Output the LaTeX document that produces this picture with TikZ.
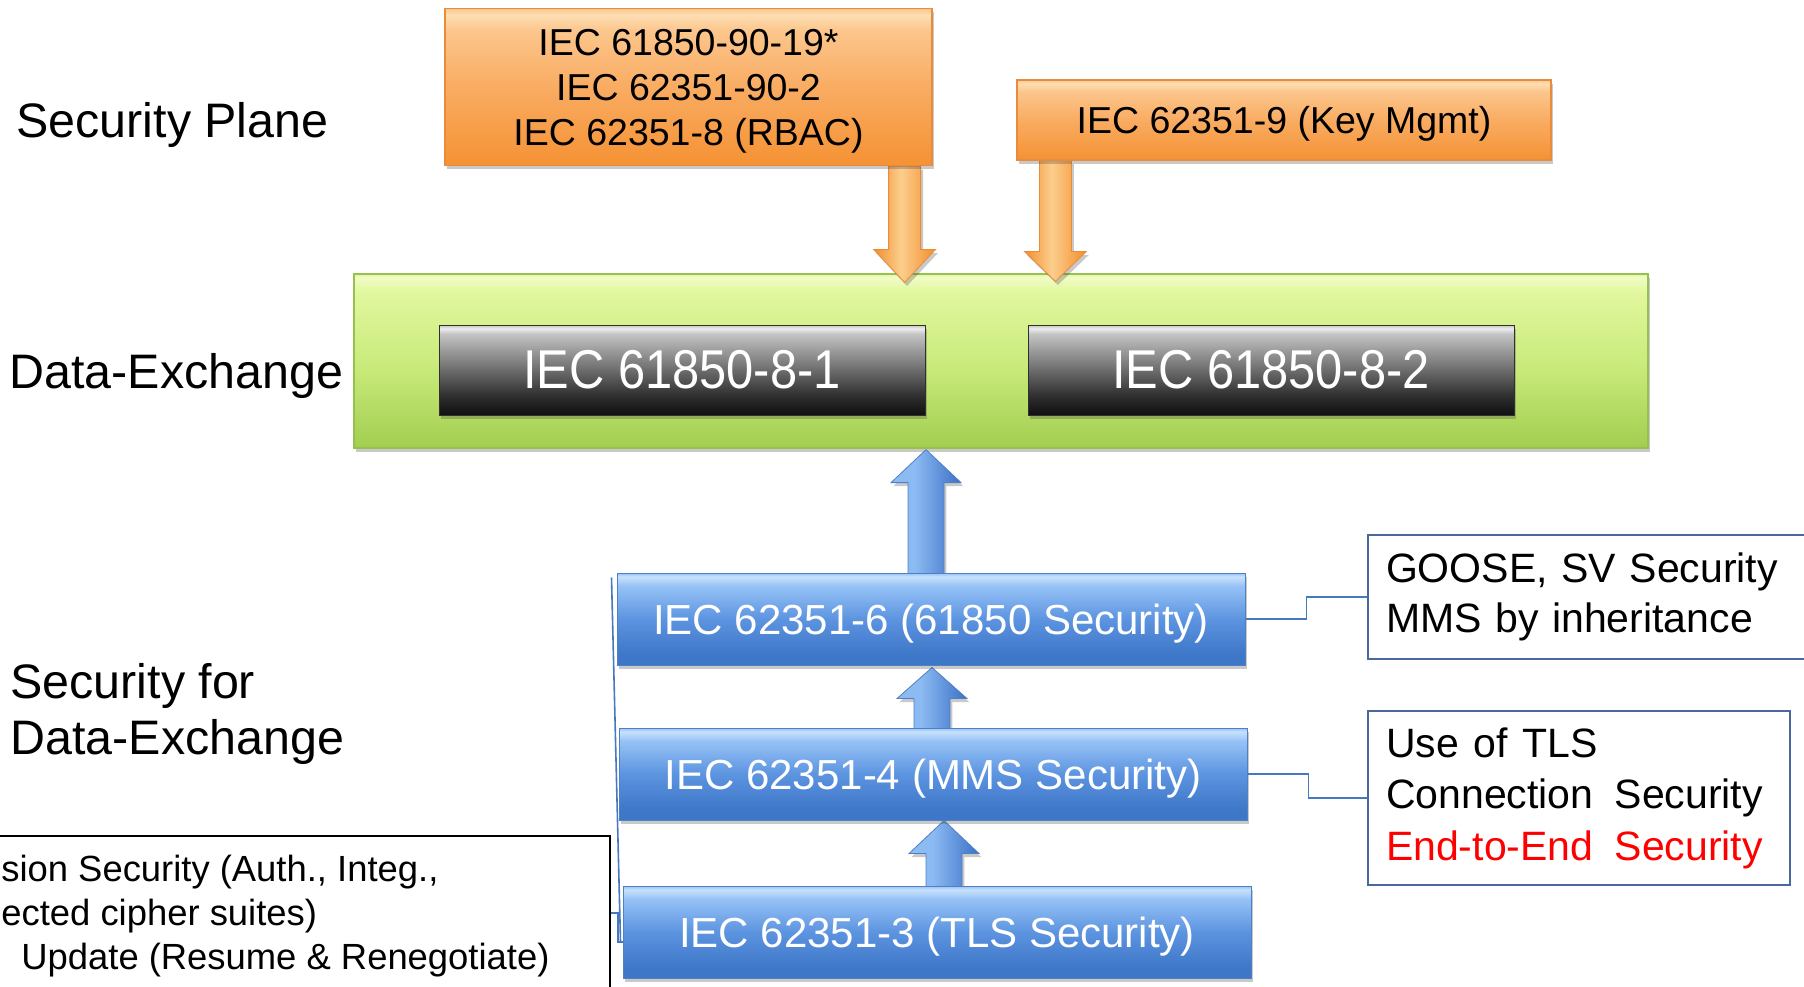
\documentclass[tikz,border=0pt]{standalone}
\usepackage{fontspec}
\setmainfont{Liberation Sans}
\usepackage{graphicx}
\usetikzlibrary{calc,shadows}

% colours
\definecolor{bluD}{RGB}{62,118,200}
\definecolor{bluM}{RGB}{92,148,224}
\definecolor{bluL}{RGB}{150,194,246}
\definecolor{bluH}{RGB}{200,226,253}
\definecolor{bluEdge}{RGB}{80,128,196}
\definecolor{orD}{RGB}{245,146,52}
\definecolor{orM}{RGB}{249,172,98}
\definecolor{orL}{RGB}{252,198,140}
\definecolor{orH}{RGB}{254,222,180}
\definecolor{orEdge}{RGB}{232,140,60}
\definecolor{grD}{RGB}{162,206,80}
\definecolor{grM}{RGB}{200,234,122}
\definecolor{grL}{RGB}{226,247,158}
\definecolor{grH}{RGB}{240,252,198}
\definecolor{grEdge}{RGB}{150,192,80}
\definecolor{dkD}{RGB}{16,16,16}
\definecolor{dkM}{RGB}{48,48,48}
\definecolor{dkL}{RGB}{160,160,160}
\definecolor{dkS}{RGB}{196,196,196}
\definecolor{dkH}{RGB}{236,236,236}
\definecolor{noteEdge}{RGB}{74,104,158}
\definecolor{connCol}{RGB}{70,120,190}
\definecolor{arOr}{RGB}{242,142,42}
\definecolor{arOrL}{RGB}{252,206,142}
\definecolor{arBlL}{RGB}{140,186,242}
\definecolor{arBlD}{RGB}{58,112,198}

% face shadings (the path box maps to 25bp..75bp)
\pgfdeclareverticalshading{blueface}{100bp}{color(0bp)=(bluD); color(25bp)=(bluD); color(30bp)=(bluD); color(50bp)=(bluM); color(68bp)=(bluL); color(73bp)=(bluH); color(75bp)=(bluL); color(100bp)=(bluL)}
\pgfdeclareverticalshading{orangeface}{100bp}{color(0bp)=(orD); color(25bp)=(orD); color(50bp)=(orM); color(68bp)=(orL); color(73bp)=(orH); color(75bp)=(orL); color(100bp)=(orL)}
\pgfdeclareverticalshading{greenface}{100bp}{color(0bp)=(grD); color(25bp)=(grD); color(48bp)=(grM); color(70bp)=(grL); color(74bp)=(grH); color(75bp)=(grL); color(100bp)=(grL)}
\pgfdeclareverticalshading{darkface}{100bp}{color(0bp)=(dkD); color(25bp)=(dkD); color(36bp)=(dkM); color(62bp)=(dkL); color(70bp)=(dkS); color(73bp)=(dkH); color(75bp)=(dkS); color(100bp)=(dkS)}
\pgfdeclarehorizontalshading{orangeshaft}{100bp}{color(0bp)=(arOr); color(25bp)=(arOr); color(47bp)=(arOrL); color(75bp)=(arOr); color(100bp)=(arOr)}
\pgfdeclarehorizontalshading{blueshaft}{100bp}{color(0bp)=(arBlL); color(25bp)=(arBlL); color(42bp)=(arBlL); color(75bp)=(arBlD); color(100bp)=(arBlD)}

\pgfdeclarelayer{bg}
\pgfdeclarelayer{arr}
\pgfsetlayers{bg,arr,main}

\tikzset{
  softshadow/.style={drop shadow={shadow xshift=1.2pt, shadow yshift=-1.8pt, opacity=0.3, fill=black!70}},
  orbox/.style={shade, shading=orangeface, draw=orEdge, line width=0.6pt, inner sep=0pt,
    align=center, softshadow, text depth=0pt, font=\fontsize{18.75pt}{22.5pt}\selectfont},
  greenbox/.style={shade, shading=greenface, draw=grEdge, line width=0.6pt, inner sep=0pt, softshadow},
  darkbox/.style={shade, shading=darkface, draw=dkM, line width=0.5pt, inner sep=0pt,
    minimum width=243pt, minimum height=45pt, text=white, softshadow, font=\fontsize{24.4pt}{28pt}\selectfont},
  bluebox/.style={shade, shading=blueface, draw=bluEdge, line width=0.5pt, inner sep=0pt, text depth=0pt,
    minimum width=314pt, minimum height=46pt, text=white, softshadow, font=\fontsize{21pt}{25pt}\selectfont},
  notebox/.style={draw=noteEdge, line width=1pt, fill=white, inner xsep=9pt, inner ysep=0pt, align=left},
  lab/.style={inner sep=0pt, font=\fontsize{24.2pt}{28.2pt}\selectfont},
  conn/.style={draw=connCol, line width=0.8pt},
  orarrow/.style={shade, shading=orangeshaft, draw=orEdge, line width=0.4pt, softshadow},
  blarrow/.style={shade, shading=blueshaft, draw=bluEdge, line width=0.4pt, softshadow}
}

% vertical block arrow: from, to (tip), shaft half width, head half width, head length, style
\newcommand\blockarrow[6]{%
  \path[#6] let \p1=(#1), \p2=(#2), \n2={\y2-sign(\y2-\y1)*#5} in
    (\x1-#3,\y1) -- (\x1-#3,\n2*1pt) -- (\x1-#4,\n2*1pt) -- (\x1,\y2)
    -- (\x1+#4,\n2*1pt) -- (\x1+#3,\n2*1pt) -- (\x1+#3,\y1) -- cycle;}

\begin{document}
\begin{tikzpicture}[x=0.5pt,y=-0.5pt]
\useasboundingbox (0,0) rectangle (1804,986);
\clip (0,0) rectangle (1804,986);

% data exchange plane
\begin{pgfonlayer}{bg}
  \node[greenbox, minimum width=647pt, minimum height=87pt] (g) at (1001,361) {};
  \node[darkbox] (d1) at (682,370) {\scalebox{1}[1.12]{IEC 61850-8-1}};
  \node[darkbox] (d2) at (1271,370) {\scalebox{1}[1.12]{IEC 61850-8-2}};
\end{pgfonlayer}

% security plane
\node[orbox, minimum width=243.5pt, minimum height=78.5pt] (o1) at (688.5,87)
  {IEC 61850-90-19*\\IEC 62351-90-2\\IEC 62351-8 (RBAC)};
\node[orbox, minimum width=267pt, minimum height=40pt] (o2) at (1284,120)
  {IEC 62351-9 (Key Mgmt)};

% security for data exchange
\node[bluebox] (b6) at (931,619) {IEC 62351-6 (61850 Security)};
\node[bluebox] (b4) at (933,774) {IEC 62351-4 (MMS Security)};
\node[bluebox] (b3) at (937,932) {IEC 62351-3 (TLS Security)};

% layer labels
\node[lab, anchor=base west] (sp) at (16,137) {Security Plane};
\node[lab, anchor=base west] (de) at (9,388) {Data-Exchange};
\node[lab, anchor=north west, align=left] (sfd) at (10,663) {Security for\\Data-Exchange};

% notes
\node[notebox, anchor=west, text width=212pt, minimum height=62pt,
      font=\fontsize{20.5pt}{25pt}\selectfont] (r1) at (1367,597)
  {GOOSE, SV Security\\MMS by inheritance};
\node[notebox, anchor=west, text width=193pt, minimum height=87pt,
      font=\fontsize{20.5pt}{25.75pt}\selectfont] (r2) at (1367,798)
  {Use\hspace{0.36em}of\hspace{0.36em}TLS\\Connection\hspace{0.52em}Security\\\textcolor{red}{End-to-End\hspace{0.52em}Security}};

\node[draw=black, line width=1.2pt, minimum width=315pt, minimum height=87pt, inner sep=0pt] (bl) at (295,923) {};
\node[anchor=west, align=left, inner sep=0pt, font=\fontsize{18.2pt}{22.2pt}\selectfont] (blt) at (1,916)
  {sion Security (Auth., Integ.,\\ected cipher suites)\\\hspace*{10pt}Update (Resume \& Renegotiate)};

% connectors
\draw[conn] (b6.east) -- ++(61,0) |- (r1.west);
\draw[conn] (b4.east) -- ++(61,0) |- (r2.west);
\draw[conn] ($(bl.east)+(0,-10)$) -- ++(7,0) |- ($(b3.west)+(0,10)$);
\draw[conn] ($(b6.north west)+(-5,5)$) -- ($(b3.west)+(-2,10)$);

% block arrows
\coordinate (a1s) at ($(o1.south east)+(-28,0)$);
\coordinate (a1e) at ($(a1s |- g.north)+(0,9)$);
\coordinate (a2s) at ($(o2.south west)+(39,0)$);
\coordinate (a2e) at ($(a2s |- g.north)+(0,8)$);
\coordinate (a3s) at ($(b6.north)+(-5,2)$);
\coordinate (a3e) at ($(a3s |- g.south)+(0,1)$);
\coordinate (a4s) at ($(b4.north)+(-1,4)$);
\coordinate (a4e) at ($(a4s |- b6.south)+(0,2)$);
\coordinate (a5s) at ($(b3.north)+(7,1)$);
\coordinate (a5e) at (a5s |- b4.south);
\begin{pgfonlayer}{arr}
  \blockarrow{a1s}{a1e}{8pt}{15.5pt}{16.5pt}{orarrow}
  \blockarrow{a2s}{a2e}{8pt}{15.5pt}{15pt}{orarrow}
  \blockarrow{a3s}{a3e}{9pt}{17.5pt}{16.5pt}{blarrow}
  \blockarrow{a4s}{a4e}{9pt}{17.5pt}{15.5pt}{blarrow}
  \blockarrow{a5s}{a5e}{9pt}{17.5pt}{16.5pt}{blarrow}
\end{pgfonlayer}
\end{tikzpicture}
\end{document}
